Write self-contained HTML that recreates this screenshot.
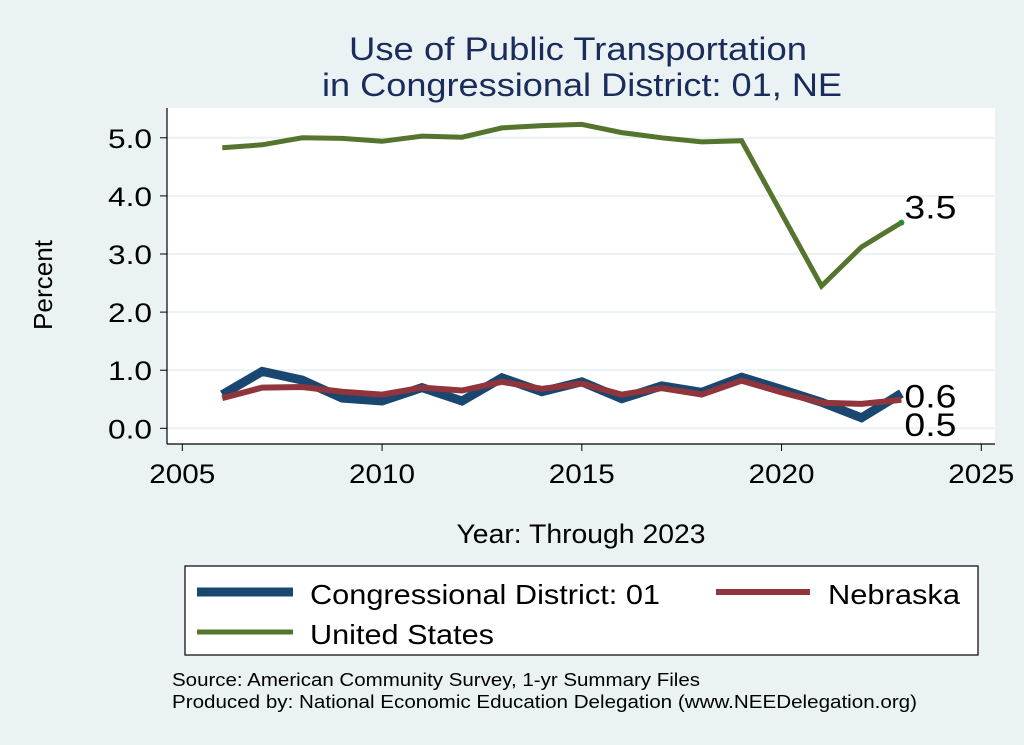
<!DOCTYPE html>
<html><head><meta charset="utf-8"><style>
html,body{margin:0;padding:0;background:#eaf2f3;}
svg{display:block;font-family:"Liberation Sans",Arial,sans-serif;}
</style></head><body>
<svg id="chart" width="1024" height="745" viewBox="0 0 1024 745" xmlns="http://www.w3.org/2000/svg">
<rect x="0" y="0" width="1024" height="745" fill="#eaf2f3"/>
<text x="578" y="60" text-anchor="middle" font-size="32" fill="#1a2c5b" textLength="458" lengthAdjust="spacingAndGlyphs">Use of Public Transportation</text>
<text x="582" y="96" text-anchor="middle" font-size="32" fill="#1a2c5b" textLength="520" lengthAdjust="spacingAndGlyphs">in Congressional District: 01, NE</text>
<rect x="167" y="108" width="828" height="336" fill="#ffffff"/>
<g id="grid"></g>
<g id="axes"></g>
<g id="series"></g>
<text transform="translate(52,285) rotate(-90)" text-anchor="middle" font-size="26" fill="#000" textLength="90" lengthAdjust="spacingAndGlyphs">Percent</text>
<text x="581" y="543" text-anchor="middle" font-size="27" fill="#000" textLength="249" lengthAdjust="spacingAndGlyphs">Year: Through 2023</text>
<g>
<rect x="185" y="566" width="793" height="89" fill="#fff" stroke="#000" stroke-width="1.2"/>
<line x1="197" y1="592" x2="293" y2="592" stroke="#1a476f" stroke-width="9"/>
<text x="310" y="604" font-size="28" fill="#000" textLength="350" lengthAdjust="spacingAndGlyphs">Congressional District: 01</text>
<line x1="716" y1="592" x2="810" y2="592" stroke="#90353b" stroke-width="6"/>
<text x="828" y="604" font-size="28" fill="#000" textLength="132" lengthAdjust="spacingAndGlyphs">Nebraska</text>
<line x1="197" y1="632" x2="293" y2="632" stroke="#55752f" stroke-width="5"/>
<text x="310" y="644" font-size="28" fill="#000" textLength="184" lengthAdjust="spacingAndGlyphs">United States</text>
</g>
<text x="172" y="686" font-size="18" fill="#000" textLength="528" lengthAdjust="spacingAndGlyphs">Source: American Community Survey, 1-yr Summary Files</text>
<text x="172" y="708" font-size="18" fill="#000" textLength="745" lengthAdjust="spacingAndGlyphs">Produced by: National Economic Education Delegation (www.NEEDelegation.org)</text>
</svg>
<script>
const years = [2006,2007,2008,2009,2010,2011,2012,2013,2014,2015,2016,2017,2018,2019,2020,2021,2022,2023];
const usValues = [4.83,4.88,5.00,4.99,4.94,5.03,5.01,5.17,5.21,5.23,5.09,5.00,4.93,4.95,3.70,2.45,3.12,3.54];
const districtValues = [0.58,0.98,0.83,0.52,0.47,0.70,0.47,0.87,0.63,0.80,0.51,0.73,0.62,0.88,0.67,0.45,0.18,0.60];
const nebraskaValues = [0.52,0.70,0.71,0.63,0.58,0.70,0.65,0.80,0.68,0.77,0.58,0.69,0.58,0.82,0.62,0.44,0.42,0.49];
const yTicks = [0,1,2,3,4,5];
const xTicks = [2005,2010,2015,2020,2025];
const endLabels = ["0.6","0.5","3.5"];

const NS="http://www.w3.org/2000/svg";
const xs = y => 182.3 + (y-2005)*39.95;
const ys = v => 428.3 - v*58.1;
function mk(tag, attrs, parent){const e=document.createElementNS(NS,tag);for(const k in attrs)e.setAttribute(k,attrs[k]);parent.appendChild(e);return e;}
const grid=document.getElementById('grid'), axes=document.getElementById('axes'), ser=document.getElementById('series');
yTicks.forEach(t=>{
  const g=mk('line',{x1:167,x2:995,y1:ys(t),y2:ys(t),stroke:'#eaf2f3','stroke-width':2},grid);
  
  
  const tk=mk('line',{x1:160,x2:167,y1:ys(t),y2:ys(t),stroke:'#000','stroke-width':1},axes);
  
  
  const tx=mk('text',{x:152,y:ys(t)+10,'text-anchor':'end','font-size':27,fill:'#000',textLength:44,lengthAdjust:'spacingAndGlyphs'},axes);
  tx.textContent=t.toFixed(1);
  
  
});
xTicks.forEach(t=>{
  const tk=mk('line',{x1:xs(t),x2:xs(t),y1:444,y2:451,stroke:'#000','stroke-width':1},axes);
  
  
  const tx=mk('text',{x:xs(t),y:483,'text-anchor':'middle','font-size':27,fill:'#000',textLength:66,lengthAdjust:'spacingAndGlyphs'},axes);
  tx.textContent=t;
  
  
});
const ya=mk('line',{x1:167,x2:167,y1:108,y2:444,stroke:'#000','stroke-width':1.2},axes);


const xa=mk('line',{x1:167,x2:995,y1:444,y2:444,stroke:'#000','stroke-width':1.2},axes);


function pts(vals){return vals.map((v,i)=>xs(years[i]).toFixed(1)+','+ys(v).toFixed(1)).join(' ');}
const l1=mk('polyline',{points:pts(districtValues),fill:'none',stroke:'#1a476f','stroke-width':9,'stroke-linejoin':'miter'},ser);


const l2=mk('polyline',{points:pts(nebraskaValues),fill:'none',stroke:'#90353b','stroke-width':6},ser);


const l3=mk('polyline',{points:pts(usValues),fill:'none',stroke:'#55752f','stroke-width':5},ser);


const n=years.length-1;
const d=mk('circle',{cx:xs(years[n]),cy:ys(usValues[n]),r:3,fill:'#2e8b2e'},ser);


const lx=xs(years[n])+3;
const labs=[[endLabels[0],ys(districtValues[n])+14,'district-end-label'],[endLabels[1],ys(nebraskaValues[n])+36,'nebraska-end-label'],[endLabels[2],ys(usValues[n])-4,'us-end-label']];
labs.forEach(l=>{
  const t=mk('text',{x:lx,y:l[1],'font-size':32,fill:'#000',textLength:52,lengthAdjust:'spacingAndGlyphs'},ser);
  t.textContent=l[0];
  
  
});
</script>
</body></html>
